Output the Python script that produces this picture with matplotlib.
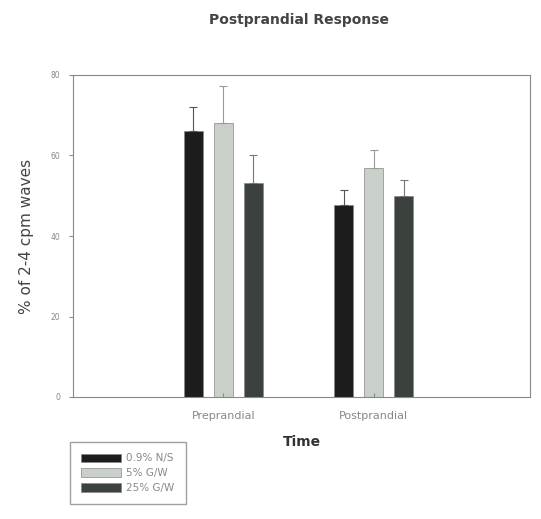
import matplotlib
matplotlib.use("Agg")
import matplotlib.pyplot as plt
import numpy as np

times = ["Preprandial", "Postprandial"]
series = ["0.9% N/S", "5% G/W", "25% G/W"]
means = {
    "0.9% N/S": [66, 47.8],
    "5% G/W": [68, 57],
    "25% G/W": [53.2, 50],
}
errs = {
    "0.9% N/S": [6, 3.7],
    "5% G/W": [9.3, 4.3],
    "25% G/W": [6.8, 4],
}
colores = ["#1c1c1c", "#c9cfc9", "#3b413d"]
col_err = ["#555555", "#999999", "#777777"]

fig = plt.figure(figsize=(5.41, 5.19), dpi=100)
ax = fig.add_axes([73 / 541, 1 - 397 / 519, 457 / 541, 322 / 519])

x = np.arange(len(times))
offs = [-0.2, 0.0, 0.2]
for i, s in enumerate(series):
    ax.bar(x + offs[i], means[s], width=0.127, color=colores[i],
           edgecolor="#888888", linewidth=0.5, label=s)
    ax.errorbar(x + offs[i], means[s], yerr=[[0, 0], errs[s]], fmt="none",
                ecolor=col_err[i], elinewidth=0.8, capsize=3, capthick=0.8)

ax.set_xlim(-1.0, 2.04)
ax.set_ylim(0, 80)
ax.set_yticks([0, 20, 40, 60, 80])
ax.set_xticks(x)
ax.set_xticklabels(times)
ax.tick_params(axis="y", labelsize=5.5, colors="#888888", length=3, pad=6)
ax.tick_params(axis="x", labelsize=8, colors="#888888", length=3, direction="in", pad=10)
for sp in ax.spines.values():
    sp.set_color("#888888")
    sp.set_linewidth(0.8)

ax.set_ylabel("% of 2-4 cpm waves", fontsize=11, color="#444444", labelpad=12)
ax.set_xlabel("Time", fontsize=10, fontweight="bold", color="#333333", labelpad=10)
fig.text(299 / 541, 1 - 20 / 519, "Postprandial Response", ha="center", va="center",
         fontsize=10, fontweight="bold", color="#444444")

leg = fig.legend(loc="upper left", bbox_to_anchor=(70 / 541, 1 - 442 / 519),
                 borderaxespad=0, fontsize=7.5, frameon=True, fancybox=False,
                 handlelength=3.8, handleheight=0.9, handletextpad=0.5,
                 labelspacing=0.45, borderpad=1.1)
leg.get_frame().set_edgecolor("#888888")
for t in leg.get_texts():
    t.set_color("#888888")

fig.savefig("out.png", dpi=100)
